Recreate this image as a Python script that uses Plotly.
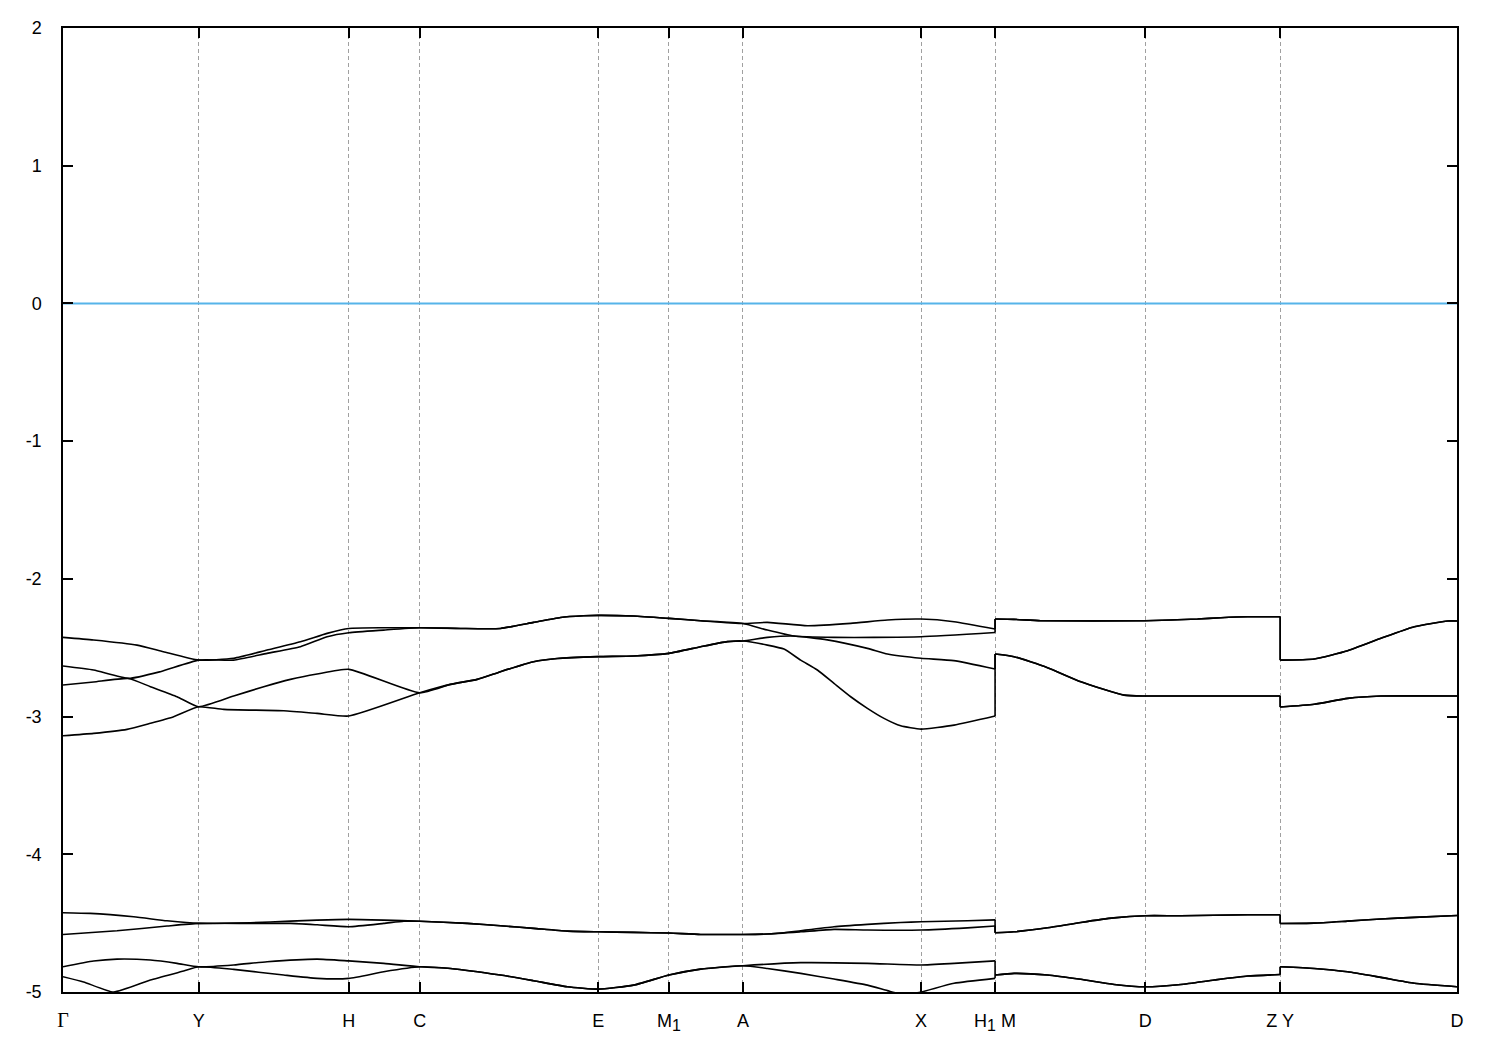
import plotly.graph_objects as go

# High-symmetry path positions and labels
K_TICKS = [0.0, 0.1356, 0.2856, 0.3566, 0.5350, 0.6056, 0.6796, 0.8576, 0.9316, 1.0816, 1.2166, 1.3933]
K_LABELS = ['<span style="font-family:Liberation Serif;font-size:20px">Γ</span>', "Y", "H", "C", "E",
            'M<sub><span style="font-size:16px">1</span></sub>', "A", "X",
            'H<sub><span style="font-size:16px">1</span></sub> M', "D", "Z Y", "D"]
E_TICKS = [-5, -4, -3, -2, -1, 0, 1, 2]
E_LABELS = ["-5", "-4", "-3", "-2", "-1", "0", "1", "2"]
FERMI = 0.0

# ---- upper group of bands ----
band1_k = [0, 0.0306, 0.074, 0.1003, 0.1356, 0.1706, 0.204, 0.2373, 0.264, 0.2856, 0.3206, 0.3566,
           0.3973, 0.4373, 0.4703, 0.4973, 0.5203, 0.535, 0.5703, 0.6056, 0.6373, 0.6796,
           0.704, 0.744, 0.7873, 0.824, 0.8576, 0.8906, 0.9316,
           0.9316, 0.9503, 0.9773, 1.0816, 1.134, 1.1573, 1.184, 1.2166,
           1.2166, 1.2506, 1.284, 1.3173, 1.3506, 1.384, 1.3933]
band1_e = [-2.425, -2.444, -2.481, -2.529, -2.59, -2.577, -2.517, -2.457, -2.396, -2.36, -2.355, -2.355,
           -2.36, -2.36, -2.316, -2.28, -2.268, -2.265, -2.27, -2.287, -2.304, -2.324,
           -2.316, -2.34, -2.323, -2.299, -2.292, -2.311, -2.364,
           -2.292, -2.294, -2.304, -2.304, -2.292, -2.282, -2.275, -2.275,
           -2.59, -2.582, -2.522, -2.432, -2.348, -2.306, -2.306]

band2_k = [0, 0.0306, 0.0656, 0.0973, 0.1356, 0.1706, 0.204, 0.2373, 0.264, 0.2856, 0.3206, 0.3566,
           0.3973, 0.4373, 0.4703, 0.4973, 0.5203, 0.535, 0.5703, 0.6056, 0.6373, 0.6796,
           0.704, 0.7303, 0.7706, 0.8106, 0.8576, 0.9316,
           0.9316, 0.9503, 0.9773, 1.0816, 1.134, 1.1573, 1.184, 1.2166,
           1.2166, 1.2506, 1.284, 1.3173, 1.3506, 1.384, 1.3933]
band2_e = [-2.633, -2.662, -2.723, -2.674, -2.59, -2.59, -2.541, -2.493, -2.42, -2.391, -2.372, -2.355,
           -2.36, -2.36, -2.316, -2.28, -2.268, -2.265, -2.27, -2.287, -2.304, -2.324,
           -2.372, -2.415, -2.425, -2.425, -2.42, -2.389,
           -2.292, -2.294, -2.304, -2.304, -2.292, -2.282, -2.275, -2.275,
           -2.59, -2.582, -2.522, -2.432, -2.348, -2.306, -2.306]

band3_k = [0, 0.0306, 0.0656, 0.0873, 0.114, 0.1356, 0.1706, 0.2006, 0.2273, 0.254, 0.2856, 0.3566,
           0.3873, 0.414, 0.4373, 0.4703, 0.494, 0.535, 0.5703, 0.6056, 0.6373, 0.664, 0.6796,
           0.704, 0.7303, 0.764, 0.804, 0.824, 0.8576, 0.8903, 0.9316,
           0.9316, 0.9506, 0.984, 1.0173, 1.0606, 1.0816, 1.2166,
           1.2166, 1.2506, 1.284, 1.3173, 1.3933]
band3_e = [-2.771, -2.749, -2.723, -2.783, -2.856, -2.929, -2.851, -2.783, -2.73, -2.691, -2.657, -2.827,
           -2.766, -2.73, -2.674, -2.602, -2.578, -2.565, -2.56, -2.541, -2.493, -2.456, -2.451,
           -2.425, -2.415, -2.443, -2.505, -2.546, -2.577, -2.594, -2.655,
           -2.546, -2.565, -2.645, -2.747, -2.844, -2.851, -2.851,
           -2.931, -2.911, -2.868, -2.851, -2.851]

band4_k = [0, 0.0306, 0.064, 0.0873, 0.1106, 0.1356, 0.1606, 0.2206, 0.254, 0.2856, 0.3566,
           0.3873, 0.414, 0.4373, 0.4703, 0.494, 0.535, 0.5703, 0.6056, 0.6373, 0.664, 0.6796,
           0.704, 0.7206, 0.7373, 0.754, 0.7706, 0.7873, 0.804, 0.8206, 0.8373, 0.8576, 0.8906, 0.9316,
           0.9316, 0.9506, 0.984, 1.0173, 1.0606, 1.0816, 1.2166,
           1.2166, 1.2506, 1.284, 1.3173, 1.3933]
band4_e = [-3.139, -3.122, -3.093, -3.049, -3.001, -2.929, -2.948, -2.958, -2.977, -2.996, -2.827,
           -2.766, -2.73, -2.674, -2.602, -2.578, -2.565, -2.56, -2.541, -2.493, -2.456, -2.451,
           -2.481, -2.51, -2.59, -2.662, -2.759, -2.856, -2.94, -3.013, -3.067, -3.091, -3.062, -2.996,
           -2.546, -2.565, -2.645, -2.747, -2.844, -2.851, -2.851,
           -2.931, -2.911, -2.868, -2.851, -2.851]

# ---- lower group of bands ----
band5_k = [0, 0.0273, 0.0706, 0.104, 0.1356, 0.1873, 0.2273, 0.254, 0.2856, 0.3206, 0.3566,
           0.404, 0.4373, 0.4703, 0.504, 0.535, 0.5703, 0.6056, 0.6373, 0.6796,
           0.704, 0.7206, 0.7373, 0.7706, 0.804, 0.8373, 0.8576, 0.904, 0.9316,
           0.9316, 0.9503, 0.984, 1.0173, 1.0503, 1.0816, 1.1173, 1.184, 1.2166,
           1.2166, 1.2503, 1.284, 1.3173, 1.3506, 1.3933]
band5_e = [-4.424, -4.429, -4.454, -4.483, -4.502, -4.497, -4.485, -4.478, -4.473, -4.478, -4.486,
           -4.502, -4.519, -4.538, -4.558, -4.563, -4.567, -4.572, -4.582, -4.582,
           -4.579, -4.57, -4.555, -4.526, -4.509, -4.495, -4.49, -4.483, -4.476,
           -4.57, -4.563, -4.534, -4.495, -4.462, -4.446, -4.446, -4.439, -4.439,
           -4.503, -4.5, -4.485, -4.47, -4.458, -4.444]

band6_k = [0, 0.054, 0.104, 0.1356, 0.1873, 0.2273, 0.254, 0.2856, 0.3206, 0.3406, 0.3566,
           0.404, 0.4373, 0.4703, 0.504, 0.535, 0.5703, 0.6056, 0.6373, 0.6796,
           0.704, 0.7373, 0.7706, 0.804, 0.8576, 0.904, 0.9316,
           0.9316, 0.9503, 0.984, 1.0173, 1.0503, 1.0816, 1.1173, 1.184, 1.2166,
           1.2166, 1.2503, 1.284, 1.3173, 1.3506, 1.3933]
band6_e = [-4.582, -4.555, -4.521, -4.502, -4.502, -4.502, -4.512, -4.526, -4.502, -4.486, -4.486,
           -4.502, -4.519, -4.538, -4.558, -4.563, -4.567, -4.572, -4.582, -4.582,
           -4.579, -4.563, -4.545, -4.55, -4.55, -4.534, -4.521,
           -4.57, -4.563, -4.534, -4.495, -4.462, -4.446, -4.446, -4.439, -4.439,
           -4.503, -4.5, -4.485, -4.47, -4.458, -4.444]

band7_k = [0, 0.0306, 0.054, 0.0873, 0.114, 0.1356, 0.1706, 0.204, 0.254, 0.2856, 0.3206, 0.3566,
           0.3873, 0.4373, 0.4703, 0.504, 0.535, 0.5703, 0.6056, 0.6373, 0.6796,
           0.7373, 0.804, 0.8576, 0.8906, 0.9316,
           0.9316, 0.9506, 0.984, 1.0173, 1.0506, 1.0816, 1.1173, 1.1506, 1.184, 1.2166,
           1.2166, 1.2506, 1.284, 1.3173, 1.3506, 1.3933]
band7_e = [-4.817, -4.775, -4.761, -4.768, -4.792, -4.817, -4.804, -4.78, -4.761, -4.774, -4.792, -4.817,
           -4.829, -4.877, -4.918, -4.962, -4.979, -4.95, -4.877, -4.834, -4.809,
           -4.787, -4.792, -4.804, -4.792, -4.774,
           -4.877, -4.865, -4.877, -4.908, -4.945, -4.962, -4.945, -4.913, -4.884, -4.873,
           -4.817, -4.829, -4.853, -4.894, -4.937, -4.962]

band8_k = [0, 0.0206, 0.0506, 0.0873, 0.1206, 0.1356, 0.1706, 0.2206, 0.254, 0.2856, 0.3206, 0.3566,
           0.3873, 0.4373, 0.4703, 0.504, 0.535, 0.5703, 0.6056, 0.6373, 0.6796,
           0.704, 0.7373, 0.7706, 0.804, 0.824, 0.8406, 0.8576, 0.8906, 0.9316,
           0.9316, 0.9506, 0.984, 1.0173, 1.0506, 1.0816, 1.1173, 1.1506, 1.184, 1.2166,
           1.2166, 1.2506, 1.284, 1.3173, 1.3506, 1.3933]
band8_e = [-4.889, -4.927, -5.0, -4.913, -4.848, -4.817, -4.836, -4.877, -4.901, -4.901, -4.853, -4.817,
           -4.829, -4.877, -4.918, -4.962, -4.979, -4.95, -4.877, -4.834, -4.809,
           -4.829, -4.865, -4.906, -4.95, -4.99, -5.02, -5.0, -4.937, -4.901,
           -4.877, -4.865, -4.877, -4.908, -4.945, -4.962, -4.945, -4.913, -4.884, -4.873,
           -4.817, -4.829, -4.853, -4.894, -4.937, -4.962]

bands = [(band1_k, band1_e), (band2_k, band2_e), (band3_k, band3_e), (band4_k, band4_e),
         (band5_k, band5_e), (band6_k, band6_e), (band7_k, band7_e), (band8_k, band8_e)]

BAND_COLOR = "black"
BAND_WIDTH = 1.6

fig = go.Figure()

fig.add_trace(go.Scatter(x=[K_TICKS[0], K_TICKS[-1]], y=[FERMI, FERMI], mode="lines",
                         line=dict(color="#56b4e9", width=2), showlegend=False, hoverinfo="skip"))

for bk, be in bands:
    # split the path where k repeats (path discontinuities)
    breaks = [i for i in range(1, len(bk)) if bk[i] == bk[i - 1]]
    starts = [0] + breaks
    ends = breaks + [len(bk)]
    for s, e in zip(starts, ends):
        fig.add_trace(go.Scatter(x=bk[s:e], y=be[s:e], mode="lines",
                                 line=dict(color=BAND_COLOR, width=BAND_WIDTH, shape="spline", smoothing=0.5),
                                 showlegend=False, hoverinfo="skip"))
    for i in breaks:
        fig.add_trace(go.Scatter(x=bk[i - 1:i + 1], y=be[i - 1:i + 1], mode="lines",
                                 line=dict(color=BAND_COLOR, width=BAND_WIDTH),
                                 showlegend=False, hoverinfo="skip"))

axis_font = dict(family="Liberation Sans, Arial, sans-serif", size=18, color="black")

fig.update_layout(
    width=1500, height=1050,
    margin=dict(l=63, r=43, t=28, b=58),
    paper_bgcolor="white", plot_bgcolor="white",
    font=axis_font,
    xaxis=dict(range=[K_TICKS[0], K_TICKS[-1]], tickmode="array", tickvals=K_TICKS, ticktext=K_LABELS,
               showline=True, linecolor="black", linewidth=1.5, mirror="ticks",
               ticks="inside", ticklen=10, tickwidth=1.5, tickcolor="black",
               showgrid=True, gridcolor="#a0a0a0", gridwidth=1, griddash="4px,3px",
               zeroline=False, tickfont=axis_font, ticklabelstandoff=12),
    yaxis=dict(range=[-5, 2], tickmode="array", tickvals=E_TICKS, ticktext=E_LABELS,
               showline=True, linecolor="black", linewidth=1.5, mirror="ticks",
               ticks="inside", ticklen=10, tickwidth=1.5, tickcolor="black",
               showgrid=False, zeroline=False, tickfont=axis_font, ticklabelstandoff=16),
)

fig.write_html("out.html", config={"displayModeBar": False},
               post_script="document.body.style.margin='0';")
